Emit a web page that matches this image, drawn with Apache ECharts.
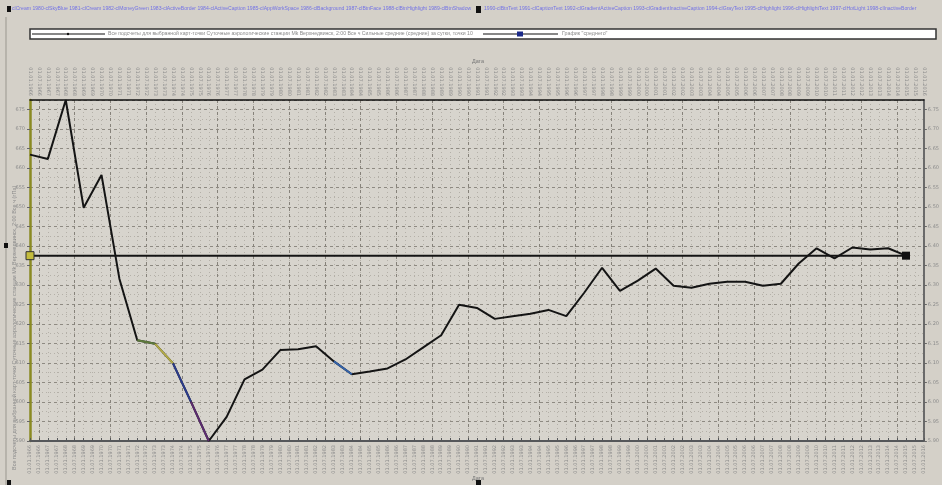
<!DOCTYPE html>
<html>
<head>
<meta charset="utf-8">
<script src="https://cdn.jsdelivr.net/npm/echarts@6/dist/echarts.min.js"></script>
<style>
  html, body { margin: 0; padding: 0; background: #d4d0c8; }
  #chart { width: 942px; height: 485px; }
</style>
</head>
<body>
<div id="chart"></div>
<script>
// Annual values, one point per year (01.01 of each year)
const years = [1966, 1967, 1968, 1969, 1970, 1971, 1972, 1973, 1974, 1975,
               1976, 1977, 1978, 1979, 1980, 1981, 1982, 1983, 1984, 1985,
               1986, 1987, 1988, 1989, 1990, 1991, 1992, 1993, 1994, 1995,
               1996, 1997, 1998, 1999, 2000, 2001, 2002, 2003, 2004, 2005,
               2006, 2007, 2008, 2009, 2010, 2011, 2012, 2013, 2014, 2015];
const values = [663.4, 662.3, 677.4, 649.8, 658.2, 631.6, 615.8, 614.9, 609.9, 600.1,
                590.0, 596.2, 605.8, 608.3, 613.3, 613.5, 614.3, 610.4, 607.1, 607.8,
                608.6, 610.9, 614.0, 617.1, 624.9, 624.1, 621.3, 622.0, 622.6, 623.6,
                622.0, 628.0, 634.4, 628.5, 631.1, 634.2, 629.8, 629.3, 630.3, 630.8,
                630.8, 629.8, 630.3, 635.5, 639.4, 636.8, 639.6, 639.1, 639.4, 637.5];
// Level of the "average" reference line (start and end)
const averageLevel = [637.5, 637.5];

// Half-year date labels for both date axes
const dateLabels = [];
for (let y = 1966; y <= 2016; y++) {
  dateLabels.push('01.01.' + y);
  if (y < 2016) dateLabels.push('01.07.' + y);
}

// Year ranges drawn with a highlight colour on top of the main line
const highlightYears = [[1972, 1973], [1973, 1974], [1974, 1975], [1975, 1976], [1983, 1984]];
const highlightColors = ['#5e7a3c', '#b4ac48', '#2c3c8c', '#5c2c70', '#3462a8'];

const key = y => '01.01.' + y;
const mainData = years.map((y, i) => [key(y), values[i]]);
const highlightSeries = highlightYears.map((r, k) => ({
  type: 'line',
  silent: true,
  symbol: 'none',
  z: 4,
  lineStyle: { color: highlightColors[k], width: 2 },
  data: r.map(y => [key(y), values[years.indexOf(y)]])
}));

const grey = '#8c8c8c';
const uiFont = 'Liberation Sans';
const titleLine1 = 'clCream 1980-clSkyBlue 1981-clCream 1982-clMoneyGreen 1983-clActiveBorder 1984-clActiveCaption 1985-clAppWorkSpace 1986-clBackground 1987-clBtnFace 1988-clBtnHighlight 1989-clBtnShadow';
const titleLine2 = '1990-clBtnText 1991-clCaptionText 1992-clGradientActiveCaption 1993-clGradientInactiveCaption 1994-clGrayText 1995-clHighlight 1996-clHighlightText 1997-clHotLight 1998-clInactiveBorder';
const legendText1 = 'Все подсчеты для выбранной карт-точки Суточные аэрологические станции Mk Верхнедвинск, 2:00 Все ч Сильные средние (средние) за сутки, точки 10';
const legendText2 = 'График "среднего"';
const yTitle = 'Все подсчеты для выбранной карт-точки Суточные аэрологические станции Mk Верхнедвинск, 2:00 Все ч (гПа)';

const chart = echarts.init(document.getElementById('chart'), null, { renderer: 'canvas' });

chart.setOption({
  backgroundColor: '#d4d0c8',
  animation: false,
  grid: { left: 30, right: 13, top: 100, bottom: 44, show: true, backgroundColor: '#d7d4cd', borderWidth: 0 },
  xAxis: [
    {
      type: 'category', position: 'bottom', boundaryGap: false, data: dateLabels,
      axisLine: { lineStyle: { color: '#55575a', width: 2 } },
      axisTick: { show: true, inside: true, length: 3, interval: 0, lineStyle: { color: '#55575a' } },
      axisLabel: { interval: 0, rotate: 90, fontSize: 5, color: grey, margin: 4, fontFamily: 'DejaVu Sans' },
      splitLine: { show: true, interval: 0, lineStyle: { color: '#b4b0a8', type: [1, 3], width: 1 } }
    },
    {
      type: 'category', position: 'top', boundaryGap: false, data: dateLabels,
      axisLine: { lineStyle: { color: '#111', width: 1.5 } },
      axisTick: { show: false },
      axisLabel: { interval: 0, rotate: 90, fontSize: 5, color: grey, margin: 4, fontFamily: 'DejaVu Sans' },
      splitLine: { show: true, interval: (i) => i % 4 === 1, lineStyle: { color: '#86827a', type: [3, 3], width: 1 } }
    }
  ],
  yAxis: [
    {
      type: 'value', position: 'left', min: 590, max: 677.4, interval: 5,
      axisLine: { show: true, lineStyle: { color: '#8a8a22', width: 2.5 } },
      axisTick: { show: true, length: 3, lineStyle: { color: '#666' } },
      axisLabel: { fontSize: 5, color: grey, margin: 5, showMaxLabel: false, fontFamily: 'DejaVu Sans' },
      splitLine: { show: true, lineStyle: { color: '#8e8a82', type: [3, 3], width: 1 } },
      minorTick: { show: false, splitNumber: 2 },
      minorSplitLine: { show: true, lineStyle: { color: '#b4b0a8', type: [1, 3] } }
    },
    {
      type: 'value', position: 'right', min: 590, max: 677.4, interval: 5,
      axisLine: { show: true, lineStyle: { color: '#6a6a6a', width: 2 } },
      axisTick: { show: true, length: 3, lineStyle: { color: '#666' } },
      axisLabel: { fontSize: 5, color: grey, margin: 4, showMaxLabel: false, fontFamily: 'DejaVu Sans',
                   formatter: v => (v / 100).toFixed(2) },
      splitLine: { show: false }
    }
  ],
  series: [
    {
      name: 'values', type: 'line', symbol: 'none', z: 3,
      lineStyle: { color: '#141414', width: 2 },
      data: mainData
    },
    ...highlightSeries,
    {
      name: 'average', type: 'line', z: 5,
      symbol: 'rect', symbolSize: 8,
      lineStyle: { color: '#141414', width: 2 },
      data: [
        { value: [key(years[0]), averageLevel[0]], itemStyle: { color: '#c4bc3c', borderColor: '#333', borderWidth: 1 } },
        { value: [key(years[years.length - 1]), averageLevel[1]], itemStyle: { color: '#111' } }
      ]
    }
  ],
  graphic: [
    { type: 'rect', shape: { x: 7, y: 6, width: 4, height: 6 }, style: { fill: '#111' } },
    { type: 'text', x: 12, y: 6.5, style: { text: titleLine1, fontSize: 5.1, fill: '#7272e6', fontFamily: uiFont } },
    { type: 'rect', shape: { x: 476, y: 6, width: 5, height: 7 }, style: { fill: '#111' } },
    { type: 'text', x: 484, y: 6.5, style: { text: titleLine2, fontSize: 5.1, fill: '#7272e6', fontFamily: uiFont } },
    { type: 'line', shape: { x1: 6, y1: 17, x2: 6, y2: 485 }, style: { stroke: '#9a978f', lineWidth: 1 } },
    { type: 'rect', shape: { x: 4, y: 243, width: 4, height: 5 }, style: { fill: '#111' } },
    { type: 'rect', shape: { x: 7, y: 480, width: 4, height: 5 }, style: { fill: '#111' } },
    // legend panel
    { type: 'rect', shape: { x: 30, y: 29, width: 906, height: 10 }, style: { fill: '#ffffff', stroke: '#333', lineWidth: 1.5 } },
    { type: 'line', shape: { x1: 32, y1: 34, x2: 105, y2: 34 }, style: { stroke: '#111', lineWidth: 1.2 } },
    { type: 'circle', shape: { cx: 68, cy: 34, r: 1.2 }, style: { fill: '#111' } },
    { type: 'text', x: 108, y: 34, style: { text: legendText1, fontSize: 5.15, fill: '#8a8a8a', verticalAlign: 'middle', fontFamily: uiFont } },
    { type: 'line', shape: { x1: 483, y1: 34, x2: 558, y2: 34 }, style: { stroke: '#111', lineWidth: 1.2 } },
    { type: 'rect', shape: { x: 517, y: 31.5, width: 6, height: 5 }, style: { fill: '#1a2a8a' } },
    { type: 'text', x: 562, y: 34, style: { text: legendText2, fontSize: 5.3, fill: '#8a8a8a', verticalAlign: 'middle', fontFamily: uiFont } },
    // date captions
    { type: 'text', x: 478, y: 61, style: { text: 'Дата', fontSize: 5.5, fill: '#777', align: 'center', verticalAlign: 'middle', fontFamily: uiFont } },
    { type: 'text', x: 478, y: 478, style: { text: 'Дата', fontSize: 5.5, fill: '#777', align: 'center', verticalAlign: 'middle', fontFamily: uiFont } },
    { type: 'rect', shape: { x: 476, y: 480, width: 5, height: 5 }, style: { fill: '#111' } },
    // left axis caption
    { type: 'text', x: 11, y: 470, rotation: Math.PI / 2, style: { text: yTitle, fontSize: 5.5, fill: '#8a8a8a', fontFamily: uiFont } }
  ]
});
</script>
</body>
</html>
